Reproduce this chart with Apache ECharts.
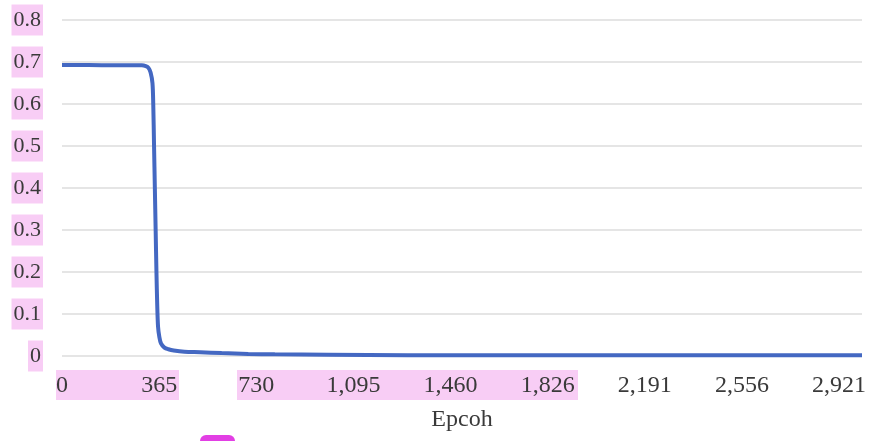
<!DOCTYPE html>
<html>
<head>
<meta charset="utf-8">
<script src="https://cdn.jsdelivr.net/npm/echarts@6/dist/echarts.min.js"></script>
<style>
  html, body { margin: 0; padding: 0; background: #fff; }
  #chart { width: 875px; height: 441px; }
</style>
</head>
<body>
<div id="chart"></div>
<script>
  // epoch / loss
  const epochs = [0, 100, 200, 280, 300, 315, 325, 333, 340, 343, 346, 349, 352, 355, 358, 361, 366, 372, 385, 400, 420, 460, 520, 600, 700, 800, 1000, 1300, 1700, 2200, 2600, 3007]
  const loss = [0.693, 0.693, 0.692, 0.692, 0.692, 0.690, 0.686, 0.675, 0.650, 0.600, 0.500, 0.400, 0.300, 0.200, 0.120, 0.070, 0.045, 0.030, 0.020, 0.016, 0.013, 0.010, 0.009, 0.007, 0.005, 0.004, 0.003, 0.002, 0.002, 0.002, 0.002, 0.002]
  const xTickLabels = ['0', '365', '730', '1,095', '1,460', '1,826', '2,191', '2,556', '2,921']
  const xStep = 365.12

  const chart = echarts.init(document.getElementById('chart'))
  const serif = 'Liberation Serif'
  const pink = '#f8cdf5'

  chart.setOption({
    animation: false,
    grid: { left: 62, right: 13, top: 20, bottom: 85 },
    xAxis: {
      type: 'value',
      min: 0,
      max: 3007,
      interval: xStep,
      name: 'Epcoh',
      nameLocation: 'middle',
      nameGap: 52,
      nameTextStyle: { fontFamily: serif, fontSize: 24, color: '#3a3a3a' },
      axisLine: { show: false },
      axisTick: { show: false },
      splitLine: { show: false },
      axisLabel: {
        showMaxLabel: false,
        margin: 18,
        fontFamily: serif,
        fontSize: 24,
        color: '#3a3a3a',
        formatter: function (v) {
          const i = Math.round(v / xStep)
          return xTickLabels[i] !== undefined ? xTickLabels[i] : ''
        }
      }
    },
    yAxis: {
      type: 'value',
      min: 0,
      max: 0.8,
      interval: 0.1,
      axisLine: { show: false },
      axisTick: { show: false },
      splitLine: { lineStyle: { color: '#dcdcdc', width: 1.5 } },
      axisLabel: {
        margin: 19,
        fontFamily: serif,
        fontSize: 22,
        color: '#3a3a3a',
        backgroundColor: pink,
        padding: [5, 2, 4, 2],
        formatter: function (v) { return v === 0 ? '0' : v.toFixed(1) }
      }
    },
    graphic: [
      { type: 'rect', z: -1, shape: { x: 56, y: 370, width: 123, height: 30 }, style: { fill: pink } },
      { type: 'rect', z: -1, shape: { x: 237, y: 370, width: 341, height: 30 }, style: { fill: pink } },
      { type: 'rect', z: -1, shape: { x: 200, y: 435, width: 35, height: 14, r: 6 }, style: { fill: '#e23fe4' } }
    ],
    series: [{
      type: 'line',
      data: epochs.map((e, i) => [e, loss[i]]),
      showSymbol: false,
      smooth: 0.3,
      lineStyle: { color: '#4468c2', width: 4 },
      itemStyle: { color: '#4468c2' }
    }]
  })
</script>
</body>
</html>
